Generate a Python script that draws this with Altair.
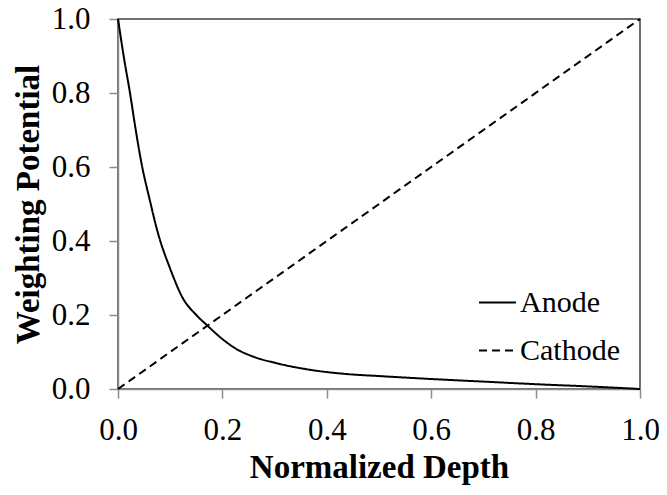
import altair as alt
import pandas as pd

anode_x = [0.0, 0.012, 0.023, 0.034, 0.045, 0.061, 0.076, 0.1, 0.124, 0.15, 0.17, 0.2, 0.227,
           0.26, 0.303, 0.372, 0.442, 0.5, 0.6, 0.7, 0.8, 0.9, 1.0]
anode_y = [1.0, 0.89, 0.80, 0.70, 0.61, 0.51, 0.424, 0.325, 0.246, 0.20, 0.173, 0.135, 0.108,
           0.087, 0.07, 0.051, 0.04, 0.035, 0.027, 0.02, 0.013, 0.007, 0.0]
cathode_x = [0.0, 1.0]
cathode_y = [0.0, 1.0]
series = ["Anode", "Cathode"]

rows = [{"depth": x, "potential": y, "series": "Anode"} for x, y in zip(anode_x, anode_y)]
rows += [{"depth": x, "potential": y, "series": "Cathode"} for x, y in zip(cathode_x, cathode_y)]
df = pd.DataFrame(rows)

FONT = "Liberation Serif"

chart = alt.Chart(df).mark_line(color="black", strokeWidth=2, interpolate="monotone").encode(
    x=alt.X("depth:Q", scale=alt.Scale(domain=[0, 1], nice=False),
            axis=alt.Axis(title="Normalized Depth", values=[0, 0.2, 0.4, 0.6, 0.8, 1.0],
                          format=".1f", grid=False, tickSize=9, labelPadding=17,
                          labelFlush=False, titlePadding=6)),
    y=alt.Y("potential:Q", scale=alt.Scale(domain=[0, 1], nice=False),
            axis=alt.Axis(title="Weighting Potential", values=[0, 0.2, 0.4, 0.6, 0.8, 1.0],
                          format=".1f", grid=False, tickSize=9, labelPadding=19,
                          labelFlush=False,
                          titleX=-90, titleY=185, titleBaseline="middle", titleAlign="center")),
    strokeDash=alt.StrokeDash("series:N",
                              scale=alt.Scale(domain=series, range=[[1, 0], [8, 5]]),
                              legend=alt.Legend(title=None, orient="none", legendX=360, legendY=264,
                                                symbolType="stroke", symbolSize=1369,
                                                symbolStrokeWidth=2, symbolStrokeColor="black",
                                                labelFont=FONT, labelFontSize=30, labelColor="black",
                                                labelOffset=3, rowPadding=13)),
    order="depth:Q",
).properties(
    width=522, height=370,
    autosize=alt.AutoSizeParams(type="none"),
    padding={"left": 110, "top": 11, "right": 19, "bottom": 98},
).configure_view(
    stroke="#404040", strokeWidth=1.5
).configure_axis(
    domainColor="#8c8c8c", tickColor="#8c8c8c", domainWidth=1.5, tickWidth=1.5,
    labelFont=FONT, labelFontSize=31, labelColor="black",
    titleFont=FONT, titleFontSize=33, titleFontWeight="bold", titleColor="black",
)

chart.save("out.html", embed_options={"renderer": "svg", "actions": False})
